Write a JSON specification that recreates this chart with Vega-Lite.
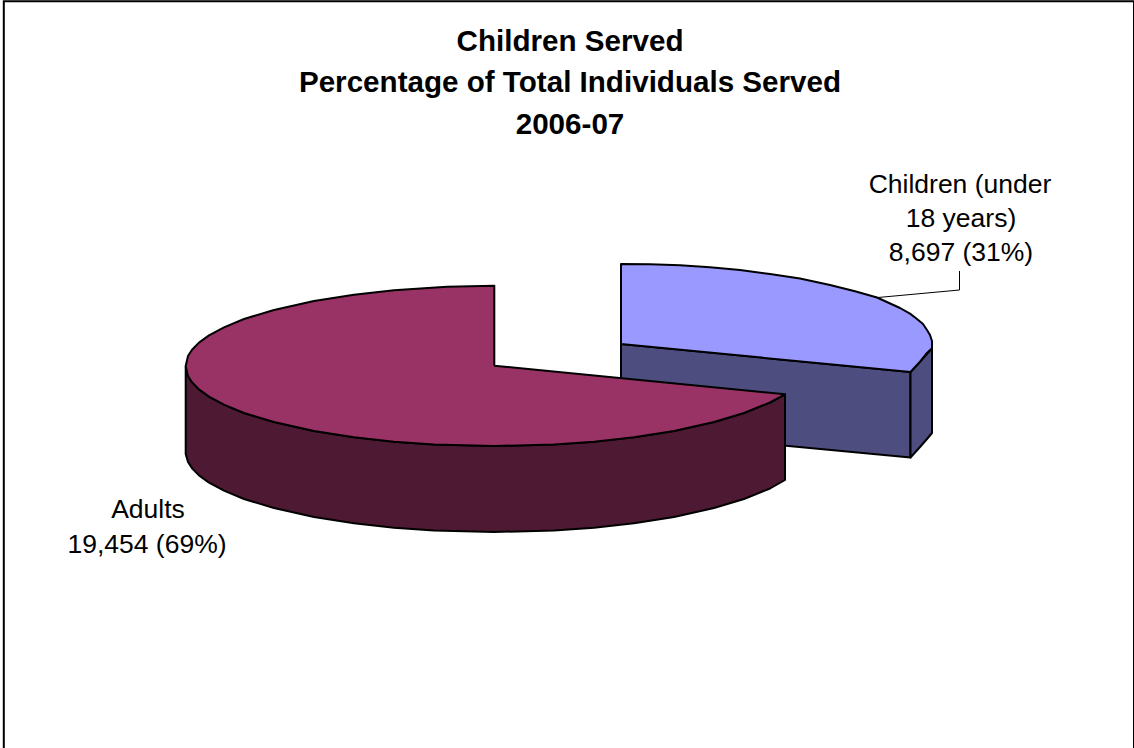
{
  "$schema": "https://vega.github.io/schema/vega-lite/v6.json",
  "width": 1134,
  "height": 748,
  "padding": 0,
  "autosize": "none",
  "background": "white",
  "view": {"stroke": null},
  "title": {
    "text": ["Children Served", "Percentage of Total Individuals Served", "2006-07"],
    "font": "Liberation Sans",
    "fontSize": 29.6,
    "fontWeight": "bold",
    "color": "black",
    "lineHeight": 41.5,
    "anchor": "middle",
    "frame": "group",
    "baseline": "alphabetic",
    "offset": 0,
    "dx": 3,
    "dy": 163.5
  },
  "datasets": {
    "frame": [
      {"x": 3.8, "y": 748, "seq": 1},
      {"x": 3.8, "y": 1.3, "seq": 2},
      {"x": 1134, "y": 1.3, "seq": 3},
      {"x": 1134, "y": 748, "seq": 4}
    ],
    "faces": [
      {"face": "Children inner side", "seq": 1, "x": 621, "y": 344},
      {"face": "Children inner side", "seq": 2, "x": 910.5, "y": 372},
      {"face": "Children inner side", "seq": 3, "x": 910.5, "y": 457.5},
      {"face": "Children inner side", "seq": 4, "x": 621, "y": 430},
      {"face": "Children inner side", "seq": 5, "x": 621, "y": 344},

      {"face": "Children outer side", "seq": 1, "x": 910.5, "y": 372},
      {"face": "Children outer side", "seq": 2, "x": 920, "y": 361.7},
      {"face": "Children outer side", "seq": 3, "x": 932, "y": 348.3},
      {"face": "Children outer side", "seq": 4, "x": 932, "y": 433},
      {"face": "Children outer side", "seq": 5, "x": 927, "y": 439},
      {"face": "Children outer side", "seq": 6, "x": 920, "y": 447},
      {"face": "Children outer side", "seq": 7, "x": 910.5, "y": 457.5},
      {"face": "Children outer side", "seq": 8, "x": 910.5, "y": 372},

      {"face": "Children top", "seq": 1, "x": 621, "y": 344},
      {"face": "Children top", "seq": 2, "x": 621, "y": 264},
      {"face": "Children top", "seq": 3, "x": 650, "y": 264.3},
      {"face": "Children top", "seq": 4, "x": 680, "y": 265.3},
      {"face": "Children top", "seq": 5, "x": 710, "y": 267.2},
      {"face": "Children top", "seq": 6, "x": 740, "y": 270},
      {"face": "Children top", "seq": 7, "x": 770, "y": 274},
      {"face": "Children top", "seq": 8, "x": 800, "y": 278.6},
      {"face": "Children top", "seq": 9, "x": 830, "y": 285},
      {"face": "Children top", "seq": 10, "x": 855, "y": 291.2},
      {"face": "Children top", "seq": 11, "x": 877, "y": 297.5},
      {"face": "Children top", "seq": 12, "x": 900, "y": 308},
      {"face": "Children top", "seq": 13, "x": 910, "y": 313.6},
      {"face": "Children top", "seq": 14, "x": 917, "y": 319},
      {"face": "Children top", "seq": 15, "x": 923, "y": 324},
      {"face": "Children top", "seq": 16, "x": 927, "y": 330},
      {"face": "Children top", "seq": 17, "x": 930, "y": 335},
      {"face": "Children top", "seq": 18, "x": 932, "y": 341},
      {"face": "Children top", "seq": 19, "x": 932, "y": 348.3},
      {"face": "Children top", "seq": 20, "x": 927, "y": 353},
      {"face": "Children top", "seq": 21, "x": 920, "y": 361.7},
      {"face": "Children top", "seq": 22, "x": 910.5, "y": 372},
      {"face": "Children top", "seq": 23, "x": 621, "y": 344},

      {"face": "Adults side", "seq": 1, "x": 185.7, "y": 366},
      {"face": "Adults side", "seq": 2, "x": 188, "y": 376},
      {"face": "Adults side", "seq": 3, "x": 192, "y": 382.3},
      {"face": "Adults side", "seq": 4, "x": 199, "y": 389.4},
      {"face": "Adults side", "seq": 5, "x": 209, "y": 396.6},
      {"face": "Adults side", "seq": 6, "x": 224, "y": 404.7},
      {"face": "Adults side", "seq": 7, "x": 244, "y": 413},
      {"face": "Adults side", "seq": 8, "x": 274, "y": 422},
      {"face": "Adults side", "seq": 9, "x": 314, "y": 431},
      {"face": "Adults side", "seq": 10, "x": 354, "y": 437.3},
      {"face": "Adults side", "seq": 11, "x": 394, "y": 441.7},
      {"face": "Adults side", "seq": 12, "x": 434, "y": 444.5},
      {"face": "Adults side", "seq": 13, "x": 494, "y": 446},
      {"face": "Adults side", "seq": 14, "x": 554, "y": 444.5},
      {"face": "Adults side", "seq": 15, "x": 594, "y": 441.7},
      {"face": "Adults side", "seq": 16, "x": 634, "y": 437.3},
      {"face": "Adults side", "seq": 17, "x": 674, "y": 431},
      {"face": "Adults side", "seq": 18, "x": 714, "y": 422},
      {"face": "Adults side", "seq": 19, "x": 744, "y": 413},
      {"face": "Adults side", "seq": 20, "x": 770, "y": 402.5},
      {"face": "Adults side", "seq": 21, "x": 785, "y": 394.3},
      {"face": "Adults side", "seq": 22, "x": 785, "y": 480},
      {"face": "Adults side", "seq": 23, "x": 770, "y": 488.5},
      {"face": "Adults side", "seq": 24, "x": 744, "y": 499},
      {"face": "Adults side", "seq": 25, "x": 714, "y": 508},
      {"face": "Adults side", "seq": 26, "x": 674, "y": 517},
      {"face": "Adults side", "seq": 27, "x": 634, "y": 523.3},
      {"face": "Adults side", "seq": 28, "x": 594, "y": 527.7},
      {"face": "Adults side", "seq": 29, "x": 554, "y": 530.5},
      {"face": "Adults side", "seq": 30, "x": 494, "y": 532},
      {"face": "Adults side", "seq": 31, "x": 434, "y": 530.5},
      {"face": "Adults side", "seq": 32, "x": 394, "y": 527.7},
      {"face": "Adults side", "seq": 33, "x": 354, "y": 523.3},
      {"face": "Adults side", "seq": 34, "x": 314, "y": 517},
      {"face": "Adults side", "seq": 35, "x": 274, "y": 508},
      {"face": "Adults side", "seq": 36, "x": 244, "y": 499},
      {"face": "Adults side", "seq": 37, "x": 224, "y": 490.7},
      {"face": "Adults side", "seq": 38, "x": 209, "y": 482.6},
      {"face": "Adults side", "seq": 39, "x": 199, "y": 475.4},
      {"face": "Adults side", "seq": 40, "x": 192, "y": 468.3},
      {"face": "Adults side", "seq": 41, "x": 188, "y": 462},
      {"face": "Adults side", "seq": 42, "x": 185.7, "y": 454},
      {"face": "Adults side", "seq": 43, "x": 185.7, "y": 366},

      {"face": "Adults top", "seq": 1, "x": 494.3, "y": 365.7},
      {"face": "Adults top", "seq": 2, "x": 494.3, "y": 285.7},
      {"face": "Adults top", "seq": 3, "x": 447, "y": 286.7},
      {"face": "Adults top", "seq": 4, "x": 394, "y": 290.3},
      {"face": "Adults top", "seq": 5, "x": 354, "y": 294.7},
      {"face": "Adults top", "seq": 6, "x": 314, "y": 301},
      {"face": "Adults top", "seq": 7, "x": 274, "y": 310},
      {"face": "Adults top", "seq": 8, "x": 244, "y": 319},
      {"face": "Adults top", "seq": 9, "x": 224, "y": 327.3},
      {"face": "Adults top", "seq": 10, "x": 209, "y": 335.4},
      {"face": "Adults top", "seq": 11, "x": 199, "y": 342.6},
      {"face": "Adults top", "seq": 12, "x": 192, "y": 349.7},
      {"face": "Adults top", "seq": 13, "x": 188, "y": 356},
      {"face": "Adults top", "seq": 14, "x": 185.7, "y": 366},
      {"face": "Adults top", "seq": 15, "x": 188, "y": 376},
      {"face": "Adults top", "seq": 16, "x": 192, "y": 382.3},
      {"face": "Adults top", "seq": 17, "x": 199, "y": 389.4},
      {"face": "Adults top", "seq": 18, "x": 209, "y": 396.6},
      {"face": "Adults top", "seq": 19, "x": 224, "y": 404.7},
      {"face": "Adults top", "seq": 20, "x": 244, "y": 413},
      {"face": "Adults top", "seq": 21, "x": 274, "y": 422},
      {"face": "Adults top", "seq": 22, "x": 314, "y": 431},
      {"face": "Adults top", "seq": 23, "x": 354, "y": 437.3},
      {"face": "Adults top", "seq": 24, "x": 394, "y": 441.7},
      {"face": "Adults top", "seq": 25, "x": 434, "y": 444.5},
      {"face": "Adults top", "seq": 26, "x": 494, "y": 446},
      {"face": "Adults top", "seq": 27, "x": 554, "y": 444.5},
      {"face": "Adults top", "seq": 28, "x": 594, "y": 441.7},
      {"face": "Adults top", "seq": 29, "x": 634, "y": 437.3},
      {"face": "Adults top", "seq": 30, "x": 674, "y": 431},
      {"face": "Adults top", "seq": 31, "x": 714, "y": 422},
      {"face": "Adults top", "seq": 32, "x": 744, "y": 413},
      {"face": "Adults top", "seq": 33, "x": 770, "y": 402.5},
      {"face": "Adults top", "seq": 34, "x": 785, "y": 394.3},
      {"face": "Adults top", "seq": 35, "x": 494.3, "y": 365.7}
    ],
    "leader": [
      {"x": 878, "y": 297.5, "seq": 1},
      {"x": 959.5, "y": 290, "seq": 2},
      {"x": 959.5, "y": 271, "seq": 3}
    ],
    "labels": [
      {"x": 960, "y": 193, "line": "Children (under"},
      {"x": 961, "y": 227, "line": "18 years)"},
      {"x": 961, "y": 260.5, "line": "8,697 (31%)"},
      {"x": 148, "y": 518, "line": "Adults"},
      {"x": 147, "y": 552.5, "line": "19,454 (69%)"}
    ]
  },
  "encoding": {
    "x": {"field": "x", "type": "quantitative", "axis": null, "scale": {"domain": [0, 1134], "nice": false, "zero": false}},
    "y": {"field": "y", "type": "quantitative", "axis": null, "scale": {"domain": [748, 0], "nice": false, "zero": false}}
  },
  "layer": [
    {
      "data": {"name": "frame"},
      "mark": {"type": "line", "stroke": "black", "strokeWidth": 2, "clip": true},
      "encoding": {"order": {"field": "seq", "type": "quantitative"}}
    },
    {
      "data": {"name": "faces"},
      "mark": {"type": "line", "stroke": "black", "strokeWidth": 2, "strokeJoin": "round"},
      "encoding": {
        "detail": {"field": "face"},
        "order": {"field": "seq", "type": "quantitative"},
        "fill": {
          "field": "face",
          "type": "nominal",
          "legend": null,
          "scale": {
            "domain": ["Children inner side", "Children outer side", "Children top", "Adults side", "Adults top"],
            "range": ["#4D4D80", "#4D4D80", "#9999FF", "#4D1933", "#993366"]
          }
        }
      }
    },
    {
      "data": {"name": "leader"},
      "mark": {"type": "line", "stroke": "black", "strokeWidth": 1},
      "encoding": {"order": {"field": "seq", "type": "quantitative"}}
    },
    {
      "data": {"name": "labels"},
      "mark": {"type": "text", "font": "Liberation Sans", "fontSize": 26.5, "color": "black", "align": "center", "baseline": "alphabetic"},
      "encoding": {"text": {"field": "line"}}
    }
  ]
}
